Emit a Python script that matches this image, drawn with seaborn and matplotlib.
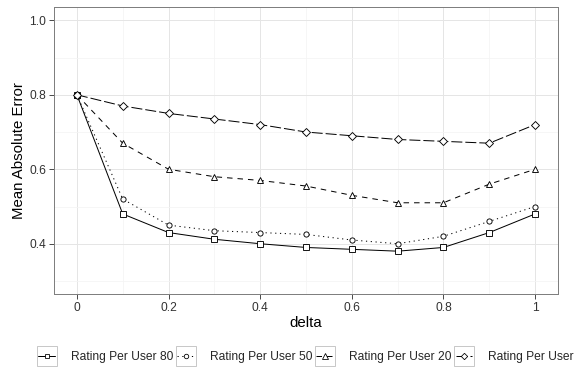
import numpy as np
import pandas as pd
import matplotlib
matplotlib.use("Agg")
import matplotlib.pyplot as plt
from matplotlib.lines import Line2D
from matplotlib.patches import Rectangle
from matplotlib.legend_handler import HandlerLine2D
import seaborn as sns

### data
delta = [0.0, 0.1, 0.2, 0.3, 0.4, 0.5, 0.6, 0.7, 0.8, 0.9, 1.0]
mae_80 = [0.80, 0.48, 0.43, 0.412, 0.40, 0.39, 0.385, 0.38, 0.39, 0.43, 0.48]
mae_50 = [0.80, 0.52, 0.45, 0.435, 0.43, 0.425, 0.41, 0.40, 0.42, 0.46, 0.50]
mae_20 = [0.80, 0.67, 0.60, 0.58, 0.57, 0.555, 0.53, 0.51, 0.51, 0.56, 0.60]
mae_all = [0.80, 0.77, 0.75, 0.735, 0.72, 0.70, 0.69, 0.68, 0.675, 0.67, 0.72]
series = ["Rating Per User 80", "Rating Per User 50", "Rating Per User 20", "Rating Per User"]

x_ticks = [0, 0.2, 0.4, 0.6, 0.8, 1.0]
x_labels = ["0", "0.2", "0.4", "0.6", "0.8", "1"]
y_ticks = [0.4, 0.6, 0.8, 1.0]
y_labels = ["0.4", "0.6", "0.8", "1.0"]

df = pd.DataFrame({
    "delta": delta * 4,
    "mae": mae_80 + mae_50 + mae_20 + mae_all,
    "series": np.repeat(series, len(delta)),
})

markers = dict(zip(series, ["s", "o", "^", "D"]))
msizes = dict(zip(series, [5, 5, 6, 5]))
dashes = dict(zip(series, ["", (1.2, 3.6), (5.5, 5), (11, 3)]))

sns.set_theme(style="white")
plt.rcParams["font.family"] = ["Liberation Sans", "DejaVu Sans"]

fig = plt.figure(figsize=(576 / 72, 381 / 72), dpi=72)
ax = fig.add_axes([54 / 576, 1 - 294 / 381, 504 / 576, 286.7 / 381])

sns.lineplot(data=df, x="delta", y="mae", style="series", style_order=series,
             markers=markers, dashes=dashes, color="black", lw=1.0,
             markeredgecolor="black", markerfacecolor="white", mew=0.9,
             markersize=5.2, errorbar=None, legend=False, ax=ax)

ax.set_xlim(-0.05, 1.05)
ax.set_ylim(0.265, 1.035)
ax.set_xticks(x_ticks)
ax.set_xticklabels(x_labels)
ax.set_yticks(y_ticks)
ax.set_yticklabels(y_labels)
ax.set_xticks([0.1, 0.3, 0.5, 0.7, 0.9], minor=True)
ax.set_yticks([0.3, 0.5, 0.7, 0.9], minor=True)
ax.tick_params(which="major", direction="out", length=5, width=1, color="#4d4d4d",
               labelcolor="#333333", labelsize=12, pad=3, bottom=True, left=True)
ax.tick_params(which="minor", length=0)
ax.grid(which="major", color="#e5e5e5", lw=1.0)
ax.grid(which="minor", color="#f4f4f4", lw=0.8)
ax.set_axisbelow(True)
for s in ax.spines.values():
    s.set_color("#7f7f7f")
    s.set_linewidth(1.0)

ax.set_xlabel("delta", fontsize=15, color="black")
ax.set_ylabel("Mean Absolute Error", fontsize=15, color="black")
ax.xaxis.set_label_coords(0.5, -0.101)
ax.xaxis.label.set_va("center")
ax.yaxis.set_label_coords(-0.069, 0.5)
ax.yaxis.label.set_va("center")

handles = []
for s in series:
    h = Line2D([], [], color="black", lw=1.0, marker=markers[s], markersize=msizes[s] - 0.5,
               markeredgecolor="black", markerfacecolor="white", mew=0.8)
    if dashes[s]:
        h.set_dashes(dashes[s])
    handles.append(h)

leg = fig.legend(handles, series, loc="center", bbox_to_anchor=(306 / 576, 1 - 357 / 381),
                 ncol=4, frameon=False, fontsize=12, handlelength=1.4, handleheight=1.0,
                 handletextpad=1.3, columnspacing=0.35, borderaxespad=0, borderpad=0,
                 handler_map={Line2D: HandlerLine2D(numpoints=1)})

# light square box round each legend key, like ggplot
fig.canvas.draw()
for lh in leg.legend_handles:
    bb = lh.get_window_extent(fig.canvas.get_renderer())
    cx = (bb.x0 + bb.x1) / 2
    cy = (bb.y0 + bb.y1) / 2
    side = 20
    fig.patches.append(Rectangle((cx - side / 2, cy - side / 2), side, side,
                                 facecolor="none", edgecolor="#c8c8c8", lw=1.0,
                                 transform=None, figure=fig, zorder=0))

fig.savefig("out.png", dpi=72)
